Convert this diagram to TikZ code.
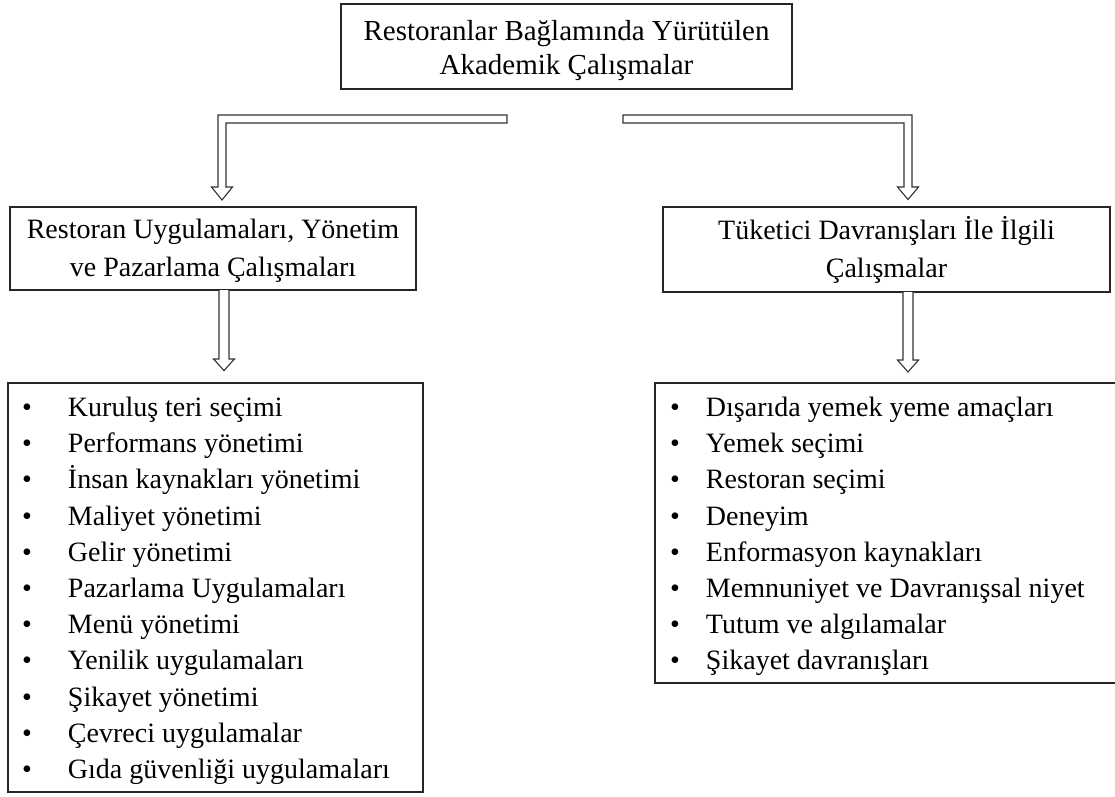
\documentclass[tikz,border=0pt]{standalone}
\usepackage{fontspec}
\setmainfont{Liberation Serif}
\usetikzlibrary{calc}
\begin{document}
\begin{tikzpicture}[x=1pt,y=-1pt,
  box/.style={draw=black!85,line width=1.3pt,inner sep=0pt,align=center},
  hollow/.style={draw=black!80,line width=1.1pt,fill=white,line join=miter},
  boxtext/.style={inner sep=0pt,align=center},
  listtxt/.style={inner sep=0pt,anchor=base west,font=\fontsize{28}{36.2}\selectfont}
]
\useasboundingbox (0,0) rectangle (1115,796);
% boxes
\node[box,minimum width=451pt,minimum height=85pt] (top) at (566.5,46.5) {};
\node[boxtext,font=\fontsize{29}{34}\selectfont] (toptext) at (566.5,50.5)
  {Restoranlar Bağlamında Yürütülen\\Akademik Çalışmalar};
\node[box,minimum width=406pt,minimum height=83pt] (lmid) at (213,248.5) {};
\node[boxtext,font=\fontsize{28}{38}\selectfont] (lmidtext) at (213,250.5)
  {Restoran Uygulamaları, Yönetim\\ve Pazarlama Çalışmaları};
\node[box,minimum width=447pt,minimum height=85pt] (rmid) at (886.5,249.5) {};
\node[boxtext,font=\fontsize{28}{38}\selectfont] (rmidtext) at (886.5,250)
  {Tüketici Davranışları İle İlgili\\Çalışmalar};
\node[box,minimum width=415pt,minimum height=409pt] (llist) at (215.5,587.5) {};
\node[box,minimum width=470pt,minimum height=300pt] (rlist) at (890,533) {};
% list texts
\node[listtxt] (litems) at (22,416.5) {\begin{tabular}[t]{@{}l@{\hspace{36pt}}l@{}}
• & Kuruluş teri seçimi\\
• & Performans yönetimi\\
• & İnsan kaynakları yönetimi\\
• & Maliyet yönetimi\\
• & Gelir yönetimi\\
• & Pazarlama Uygulamaları\\
• & Menü yönetimi\\
• & Yenilik uygulamaları\\
• & Şikayet yönetimi\\
• & Çevreci uygulamalar\\
• & Gıda güvenliği uygulamaları
\end{tabular}};
\node[listtxt] (ritems) at (670,416.5) {\begin{tabular}[t]{@{}l@{\hspace{26pt}}l@{}}
• & Dışarıda yemek yeme amaçları\\
• & Yemek seçimi\\
• & Restoran seçimi\\
• & Deneyim\\
• & Enformasyon kaynakları\\
• & Memnuniyet ve Davranışsal niyet\\
• & Tutum ve algılamalar\\
• & Şikayet davranışları
\end{tabular}};
% hollow arrows
\draw[hollow] (507,115) -- (218,115) -- (218,187) -- (211.5,187) -- (222,200) -- (232.5,187)
  -- (226,187) -- (226,123) -- (507,123) -- cycle;
\draw[hollow] (623,115) -- (912,115) -- (912,187) -- (918.5,187) -- (908,199.5) -- (897.5,187)
  -- (904,187) -- (904,123) -- (623,123) -- cycle;
\draw[hollow] (219,290) -- (219,359) -- (213.5,359) -- (224,370.5) -- (234.5,359) -- (229,359) -- (229,290);
\draw[hollow] (903,292) -- (903,360) -- (897.5,360) -- (908,372) -- (918.5,360) -- (913,360) -- (913,292);
\end{tikzpicture}
\end{document}
